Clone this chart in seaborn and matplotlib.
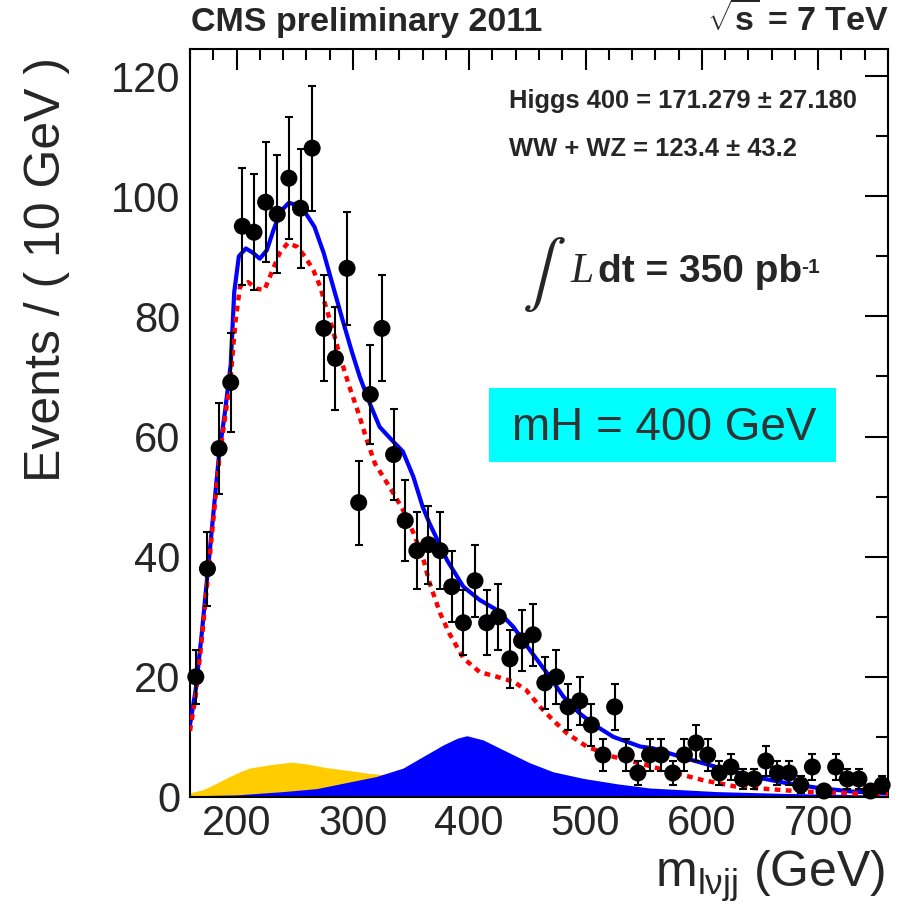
import numpy as np
import pandas as pd
import matplotlib
matplotlib.use("Agg")
import matplotlib.pyplot as plt
import seaborn as sns
from matplotlib.ticker import MultipleLocator, FixedLocator
from matplotlib.patches import Rectangle

# ---------------- data ----------------
bin_centers = [165, 175, 185, 195, 205, 215, 225, 235, 245, 255,
               265, 275, 285, 295, 305, 315, 325, 335, 345, 355,
               365, 375, 385, 395, 405, 415, 425, 435, 445, 455,
               465, 475, 485, 495, 505, 515, 525, 535, 545, 555,
               565, 575, 585, 595, 605, 615, 625, 635, 645, 655,
               665, 675, 685, 695, 705, 715, 725, 735, 745, 755]
counts = [20, 38, 58, 69, 95, 94, 99, 97, 103, 98,
          108, 78, 73, 88, 49, 67, 78, 57, 46, 41,
          42, 41, 35, 29, 36, 29, 30, 23, 26, 27,
          19, 20, 15, 16, 12, 7, 15, 7, 4, 7,
          7, 4, 7, 9, 7, 4, 5, 3, 3, 6,
          4, 4, 2, 5, 1, 5, 3, 3, 1, 2]

fit_x = [160, 165, 170, 175, 180, 185, 190, 195, 198, 202, 208, 214, 220, 226,
         232, 238, 245, 252, 260, 267, 275, 283, 291, 299, 306, 315, 323, 335,
         343, 352, 360, 366, 381, 395, 409, 424, 438, 452, 467, 481, 495, 510,
         524, 547, 558, 587, 616, 644, 673, 702, 730, 760]
fit_y = [12, 18, 27, 37, 47, 57, 64, 72, 84, 90, 91.3, 90.6, 89.6, 91,
         94.5, 97.5, 98.9, 98.5, 97, 94.9, 90.5, 85, 79.5, 74.2, 69.9, 65.3, 61.6, 59.1,
         57.5, 53.3, 48.3, 45.5, 39.4, 35, 32.8, 31.1, 28.3, 24.5, 20.6, 16.7, 13.9, 11.7,
         10, 8.4, 8.1, 6.4, 4.8, 3.4, 2.3, 1.45, 0.9, 0.6]

bkg_x = [160, 165, 170, 175, 180, 185, 190, 195, 199, 203, 210, 217, 224, 231,
         237, 244, 252, 259, 266, 272, 276, 282, 289, 297, 305, 312, 319, 328,
         335, 343, 352, 360, 366, 375, 383, 395, 409, 424, 438, 449, 461, 472,
         484, 501, 524, 547, 573, 601, 630, 659, 687, 730, 760]
bkg_y = [11, 17, 26, 36, 46, 56, 63, 70, 79, 85, 85.7, 84.6, 84.4, 87.7,
         90.5, 92.2, 91.6, 89.9, 87.7, 84.9, 82.1, 78.3, 73.3, 68.3, 63.8, 59.4, 55.5, 52.7,
         50.5, 47.8, 44, 40, 35.6, 30.6, 27.2, 23.1, 20.8, 20, 19.2, 17.8, 15, 12.8,
         10.6, 8.4, 6.7, 5.6, 4.2, 2.8, 1.7, 1.3, 0.9, 0.6, 0.5]

diboson_x = [160, 171, 183, 194, 203, 211, 226, 247, 260, 277, 297, 315, 329, 345,
             370, 400, 450, 500, 560, 640, 760]
diboson_y = [0.7, 1.2, 2.3, 3.4, 4.2, 4.8, 5.3, 5.8, 5.5, 4.9, 4.4, 3.9, 3.7, 3.3,
             2.7, 2.0, 1.3, 0.8, 0.4, 0.2, 0.1]

signal_x = [160, 200, 240, 269, 297, 320, 343, 360, 378, 390, 398, 412, 435, 452,
            472, 498, 527, 555, 613, 670, 760]
signal_y = [0.2, 0.35, 0.9, 1.4, 2.5, 3.4, 4.8, 6.7, 8.7, 9.8, 10.2, 9.5, 7.3, 5.7,
            4.2, 3.1, 2.2, 1.5, 0.9, 0.6, 0.3]

x_ticks = [200, 300, 400, 500, 600, 700]
y_ticks = [0, 20, 40, 60, 80, 100, 120]

# ---------------- style ----------------
sns.set_style("white")
plt.rcParams['font.family'] = ['Liberation Sans', 'DejaVu Sans']
plt.rcParams['mathtext.fontset'] = 'custom'
plt.rcParams['mathtext.rm'] = 'Liberation Sans'
plt.rcParams['mathtext.it'] = 'Liberation Sans:italic'
plt.rcParams['mathtext.bf'] = 'Liberation Sans:bold'

W, H = 905, 907
fig = plt.figure(figsize=(W / 100, H / 100), dpi=100)
ax = fig.add_axes([190 / W, 1 - 797 / H, 698 / W, 748 / H])


def fx(px):
    return px / W


def fy(py):
    return 1 - py / H


data = pd.DataFrame({"m": bin_centers, "n": counts})
fit = pd.DataFrame({"m": fit_x, "y": fit_y})
bkg = pd.DataFrame({"m": bkg_x, "y": bkg_y})

# filled components
ax.fill_between(diboson_x, diboson_y, 0, color="#FFCC00", lw=0, zorder=1)
ax.fill_between(signal_x, signal_y, 0, color="#0000FF", lw=0, zorder=2)

# curves
sns.lineplot(data=fit, x="m", y="y", ax=ax, color="#0000FF", lw=3, zorder=3)
sns.lineplot(data=bkg, x="m", y="y", ax=ax, color="#FF0000", lw=3.2,
             linestyle=(0, (1.3, 1.2)), zorder=4)

# data with error bars
yerr = np.sqrt(np.array(counts, dtype=float))
ax.errorbar(data["m"], data["n"], yerr=yerr, fmt="none", ecolor="black",
            elinewidth=1.5, capsize=2.9, capthick=1.5, zorder=5, clip_on=False)
sns.scatterplot(data=data, x="m", y="n", ax=ax, color="black", s=150,
                edgecolor="none", zorder=6, clip_on=False)

# axes
ax.set_xlim(160, 760)
ax.set_ylim(0, 124.5)
ax.xaxis.set_major_locator(FixedLocator(x_ticks))
ax.yaxis.set_major_locator(FixedLocator(y_ticks))
ax.xaxis.set_minor_locator(MultipleLocator(20))
ax.yaxis.set_minor_locator(MultipleLocator(10))
ax.set_xticklabels([str(t) for t in x_ticks])
ax.set_yticklabels([str(t) for t in y_ticks])
ax.tick_params(which="both", direction="in", top=True, right=True,
               width=1.5, color="black", labelsize=30)
ax.tick_params(axis="x", which="major", length=15, pad=5)
ax.tick_params(axis="x", which="minor", length=8)
ax.tick_params(axis="y", which="major", length=16.5, pad=7)
ax.tick_params(axis="y", which="minor", length=9)
for s in ax.spines.values():
    s.set_linewidth(1.5)
    s.set_color("black")
ax.set_xlabel("")
ax.set_ylabel("")

# axis titles
fig.text(fx(47), fy(269), "Events / ( 10 GeV )", rotation=90, fontsize=36,
         ha="center", va="center")
fig.text(fx(885), fy(887), r"m$_{\mathrm{l\nu jj}}$ (GeV)", fontsize=36,
         ha="right", va="baseline")

# header
fig.text(fx(191), fy(31), "CMS preliminary 2011", fontsize=24.5,
         fontweight="bold", ha="left", va="baseline")
fig.text(fx(889), fy(31), r"$\sqrt{\mathbf{s}}$ = 7 TeV", fontsize=24.5,
         fontweight="bold", ha="right", va="baseline")

# fit results
fig.text(fx(509), fy(108), "Higgs 400 = 171.279 ± 27.180", fontsize=18.4,
         fontweight="bold", ha="left", va="baseline")
fig.text(fx(509), fy(156), "WW + WZ = 123.4 ± 43.2", fontsize=18.4,
         fontweight="bold", ha="left", va="baseline")

# luminosity
fig.text(fx(566), fy(275), r"$\int$", fontsize=47, math_fontfamily="stix",
         ha="right", va="center")
fig.text(fx(570), fy(282), "L", fontsize=30, family="Liberation Serif",
         style="italic", ha="left", va="baseline")
fig.text(fx(598), fy(282), "dt = 350 pb", fontsize=28, fontweight="bold",
         ha="left", va="baseline")
fig.text(fx(801), fy(273), "-1", fontsize=15, fontweight="bold",
         ha="left", va="baseline")

# mass box
ax.add_patch(Rectangle((fx(489), fy(462)), 347 / W, 74 / H,
                       transform=fig.transFigure, facecolor="#00FFFF",
                       edgecolor="none", clip_on=False, zorder=7))
fig.text(fx(664.5), fy(440), "mH = 400 GeV", fontsize=33, color="#333333",
         ha="center", va="baseline", zorder=8)

fig.savefig("out.png", dpi=100)
